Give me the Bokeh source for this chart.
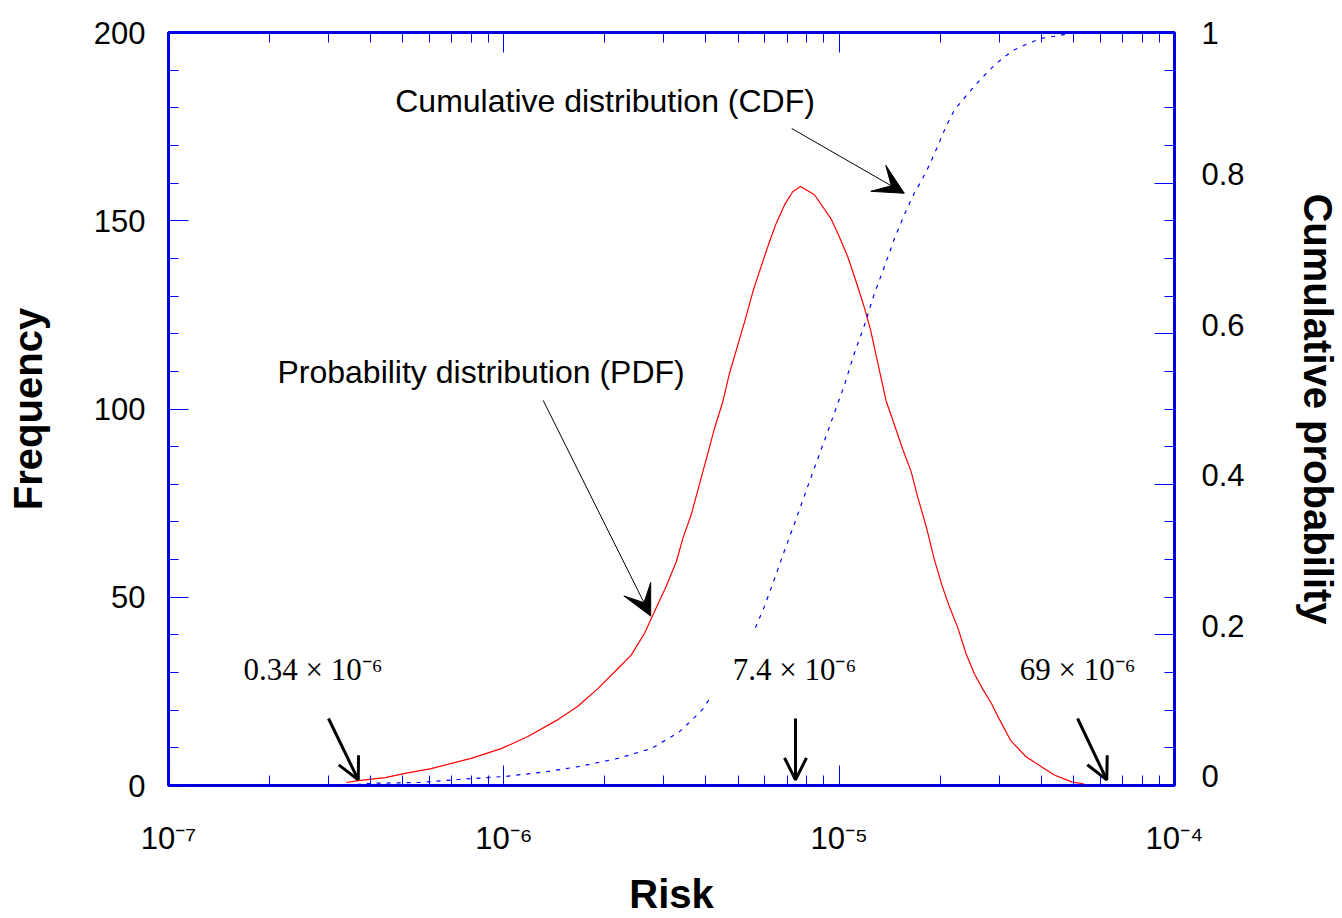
import numpy as np
from bokeh.plotting import figure
from bokeh.models import (Range1d, LinearAxis, LogAxis, FixedTicker, Arrow,
                          VeeHead, OpenHead, ColumnDataSource)
from bokeh.core.properties import value
from bokeh.embed import file_html
from bokeh.resources import INLINE

# ---------------- data (risk in units of 1e-6) ----------------
pdf_risk_u = [0.339, 0.368, 0.443, 0.508, 0.607, 0.799, 0.982, 1.18, 1.45, 1.66,
              1.91, 2.22, 2.40, 2.63, 2.77, 3.05, 3.27, 3.42, 3.62, 3.84,
              4.06, 4.25, 4.50, 4.71, 4.99, 5.28, 5.53, 5.85, 6.20, 6.49,
              6.87, 7.27, 7.67, 8.44, 9.46, 10.0, 10.6, 11.2, 11.8, 12.4,
              13.0, 13.8, 14.6, 15.5, 16.4, 17.1, 18.2, 19.2, 20.3, 21.3,
              22.6, 23.9, 25.3, 26.8, 28.4, 30.0, 32.5, 36.0, 39.9, 43.8,
              49.6, 53.8]
pdf_freq = [0.8, 1.3, 2.1, 3.2, 4.5, 7.2, 9.8, 13.0, 17.5, 21.0,
            25.8, 31.6, 34.7, 40.5, 44.9, 52.9, 59.5, 65.7, 71.9, 80.3,
            88.3, 94.9, 102.0, 109.5, 117.1, 124.6, 131.2, 137.8, 144.5, 149.3,
            154.2, 157.7, 159.1, 156.9, 150.5, 145.8, 140.5, 134.2, 127.9, 121.1,
            112.7, 102.2, 95.9, 89.1, 83.3, 77.0, 68.6, 60.2, 52.9, 47.6,
            41.8, 35.0, 29.7, 25.6, 21.9, 17.7, 11.9, 7.7, 5.1, 2.8,
            0.9, 0.4]

cdf_risk_u = [0.34, 0.376, 0.413, 0.555, 0.731, 1.007, 1.325, 1.664, 2.19, 2.75,
              3.31, 3.62, 3.93, 5.62, 5.99, 6.42, 6.87, 7.36, 7.88, 8.44,
              9.04, 9.68, 10.37, 11.10, 11.89, 12.73, 13.64, 14.61, 15.64, 16.76,
              17.54, 18.58, 19.67, 20.82, 22.05, 23.62, 25.57, 28.04, 30.72, 33.28,
              36.88, 39.94, 43.78, 48.0, 49.6]
cdf_prob = [0.0, 0.002, 0.003, 0.004, 0.008, 0.012, 0.018, 0.025, 0.036, 0.049,
            0.070, 0.086, 0.102, 0.209, 0.238, 0.275, 0.312, 0.348, 0.385, 0.422,
            0.458, 0.495, 0.532, 0.574, 0.611, 0.653, 0.689, 0.726, 0.758, 0.787,
            0.802, 0.824, 0.849, 0.875, 0.897, 0.913, 0.931, 0.950, 0.966, 0.977,
            0.986, 0.992, 0.995, 0.998, 1.0]

x_ticks = [1e-7, 1e-6, 1e-5, 1e-4]
x_tick_labels = ["10\u207b\u2077", "10\u207b\u2076", "10\u207b\u2075", "10\u207b\u2074"]
freq_ticks = [0, 50, 100, 150, 200]
prob_ticks = [0, 0.2, 0.4, 0.6, 0.8, 1]
prob_tick_labels = ["0", "0.2", "0.4", "0.6", "0.8", "1"]

marker_labels = ["0.34 \u00d7 10\u207b\u2076", "7.4 \u00d7 10\u207b\u2076", "69 \u00d7 10\u207b\u2076"]
curve_labels = ["Cumulative distribution (CDF)", "Probability distribution (PDF)"]

# ---------------- annotation placement (data coordinates) ----------------
marker_label_x = [1.438e-7, 4.14e-6, 2.97e-5]
marker_label_y = [30.8, 30.8, 30.8]
marker_arrow_x0 = [3.0e-7, 7.41e-6, 5.14e-5]
marker_arrow_x1 = [3.68e-7, 7.41e-6, 6.28e-5]
marker_arrow_y0 = 17.8
marker_arrow_y1 = 1.5
curve_label_x = [4.745e-7, 2.113e-7]
curve_label_y = [181.9, 109.7]
pointer_start = [(7.22e-6, 174.5), (1.31e-6, 102.3)]
pointer_end = [(1.564e-5, 157.3), (2.741e-6, 45.0)]

BLUE = "#0000dd"
SANS = "Liberation Sans"
SERIF = "Liberation Serif"

# right-axis labels sit slightly above their ticks in the original
LBL_SHIFT = 0.012

p = figure(width=1342, height=918, x_axis_type="log",
           x_range=Range1d(1e-7, 1e-4), y_range=Range1d(0, 200),
           output_backend="svg", toolbar_location=None,
           min_border_left=168, min_border_top=32,
           min_border_right=165, min_border_bottom=133)
p.extra_y_ranges = {"prob": Range1d(0, 1),
                    "prob_lbl": Range1d(-LBL_SHIFT, 1 - LBL_SHIFT)}
p.grid.visible = False
p.outline_line_color = BLUE
p.outline_line_width = 3
p.background_fill_color = "white"
p.border_fill_color = "white"

x_minor = [k * 10.0 ** e for e in (-7, -6, -5) for k in range(2, 10)]
x_ticker = FixedTicker(ticks=x_ticks, minor_ticks=x_minor)


def style_ticks(ax):
    ax.axis_line_color = None
    ax.major_tick_line_color = "#0000ff"
    ax.minor_tick_line_color = "#0000ff"
    ax.major_tick_line_width = 1
    ax.minor_tick_line_width = 1
    ax.major_tick_in = 20
    ax.major_tick_out = 0
    ax.minor_tick_in = 10
    ax.minor_tick_out = 0
    ax.major_label_text_font = SANS
    ax.major_label_text_font_size = "31px"
    ax.major_label_text_color = "black"
    ax.axis_label_text_font = SANS
    ax.axis_label_text_font_size = "40px"
    ax.axis_label_text_font_style = "bold"
    ax.axis_label_text_color = "black"


def hide_labels(ax):
    ax.major_label_text_font_size = "1px"
    ax.major_label_text_color = None
    ax.major_label_standoff = 0


# bottom axis
xb = p.xaxis[0]
xb.ticker = x_ticker
xb.major_label_overrides = dict(zip(x_ticks, x_tick_labels))
style_ticks(xb)
xb.major_label_standoff = 35
xb.axis_label = "Risk"
xb.axis_label_standoff = 13

# left axis
yl = p.yaxis[0]
yl.ticker = FixedTicker(ticks=freq_ticks, minor_ticks=list(range(0, 201, 10)))
style_ticks(yl)
yl.major_label_standoff = 23
yl.axis_label = "Frequency"
yl.axis_label_standoff = 41

# top axis (ticks only)
xt = LogAxis(ticker=x_ticker)
style_ticks(xt)
hide_labels(xt)
p.add_layout(xt, "above")

# right axis: ticks
yr = LinearAxis(y_range_name="prob",
                ticker=FixedTicker(ticks=prob_ticks, minor_ticks=[i * 0.05 for i in range(21)]))
style_ticks(yr)
hide_labels(yr)
p.add_layout(yr, "right")

# right axis: labels (top label clamped to the range end)
lbl_ticks = [min(t, 1 - LBL_SHIFT - 1e-4) for t in prob_ticks]
yr2 = LinearAxis(y_range_name="prob_lbl", ticker=FixedTicker(ticks=lbl_ticks, minor_ticks=[]))
style_ticks(yr2)
yr2.major_tick_line_color = None
yr2.minor_tick_line_color = None
yr2.major_tick_in = 0
yr2.minor_tick_in = 0
yr2.major_label_overrides = dict(zip(lbl_ticks, prob_tick_labels))
yr2.major_label_standoff = 27
yr2.axis_label = "Cumulative probability"
yr2.axis_label_standoff = 48
p.add_layout(yr2, "right")

# curves
pdf_src = ColumnDataSource(dict(x=np.array(pdf_risk_u) * 1e-6, y=pdf_freq))
cdf_src = ColumnDataSource(dict(x=np.array(cdf_risk_u) * 1e-6, y=cdf_prob))
p.line("x", "y", source=pdf_src, line_color="#ff0000", line_width=1.2)
p.line("x", "y", source=cdf_src, y_range_name="prob", line_color="#0000ff",
       line_width=1.2, line_dash="4 6")

# marker value labels with opaque white boxes
p.text(x=marker_label_x, y=marker_label_y, text=marker_labels,
       text_font=value(SERIF), text_font_size="31px", text_color="black",
       text_align="left", text_baseline="alphabetic",
       background_fill_color="white", padding=22)

# curve labels
p.text(x=curve_label_x, y=curve_label_y, text=curve_labels,
       text_font=value(SANS), text_font_size="32px", text_color="black",
       text_align="left", text_baseline="alphabetic")

# pointer arrows
for (xs, ys), (xe, ye) in zip(pointer_start, pointer_end):
    p.add_layout(Arrow(end=VeeHead(size=30, fill_color="black", line_color="black", line_width=1),
                       x_start=xs, y_start=ys, x_end=xe, y_end=ye,
                       line_color="black", line_width=1))

# bold marker arrows
for x0, x1 in zip(marker_arrow_x0, marker_arrow_x1):
    p.add_layout(Arrow(end=OpenHead(size=22, line_color="black", line_width=3),
                       x_start=x0, y_start=marker_arrow_y0, x_end=x1, y_end=marker_arrow_y1,
                       line_color="black", line_width=3))

open("out.html", "w").write(file_html(p, INLINE))
